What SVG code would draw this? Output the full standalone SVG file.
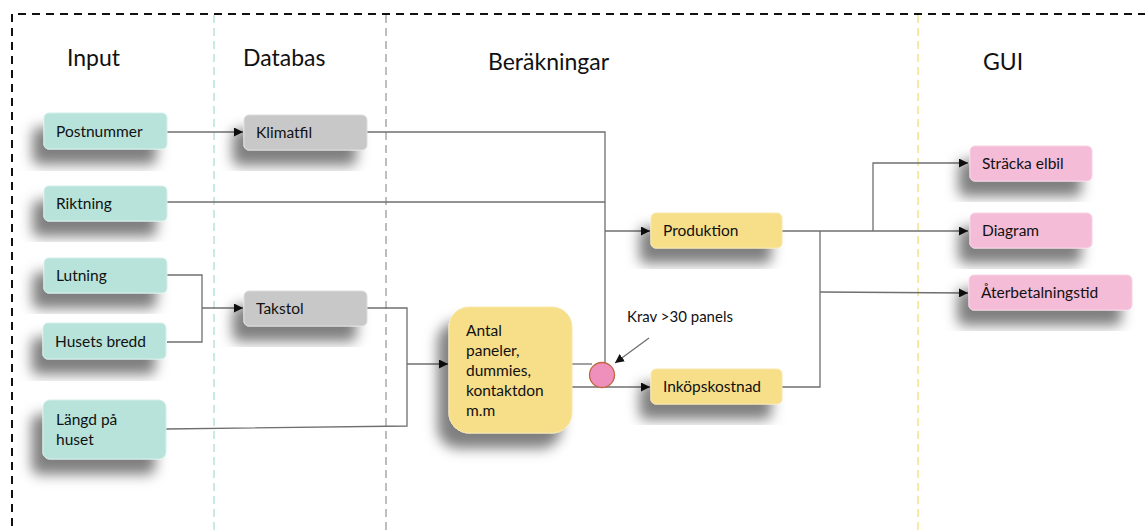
<svg xmlns="http://www.w3.org/2000/svg" width="1145" height="531" viewBox="0 0 1145 531">
<style>
.hdr{font-family:Lato,"Open Sans","Liberation Sans",sans-serif;font-size:23px;fill:#111}
.lbl{font-family:Lato,"Open Sans","Liberation Sans",sans-serif;font-size:15.5px;fill:#111}
.sm{font-family:Lato,"Open Sans","Liberation Sans",sans-serif;font-size:15px;fill:#111}
.teal{fill:#b8e3db;stroke:#d4eee9;stroke-width:1}
.gray{fill:#c8c8c8;stroke:#dcdcdc;stroke-width:1}
.yel{fill:#f7de89;stroke:#f9e8ad;stroke-width:1}
.pink{fill:#f4bcd7;stroke:#f8d3e5;stroke-width:1}
.con{fill:none;stroke:#6f6f6f;stroke-width:1.3}
</style>
<defs>
<filter id="sh" x="-40%" y="-40%" width="180%" height="200%">
<feDropShadow dx="-11" dy="15" stdDeviation="6.5" flood-color="#000" flood-opacity="0.5"/>
</filter>
<marker id="ah" viewBox="0 0 10 10" refX="10" refY="5" markerWidth="9" markerHeight="9" markerUnits="userSpaceOnUse" orient="auto">
<path d="M0,0 L10,5 L0,10 z" fill="#111"/>
</marker>
</defs>
<rect width="1145" height="531" fill="#fff"/>
<g id="frame">
<path d="M1160,14 H12 V540" fill="none" stroke="#111" stroke-width="2" stroke-dasharray="8,6"/>
<line x1="214" y1="15" x2="214" y2="531" stroke="#c9e9e5" stroke-width="2" stroke-dasharray="8,5"/>
<line x1="386" y1="15" x2="386" y2="531" stroke="#a9a9a9" stroke-width="1.5" stroke-dasharray="8,5"/>
<line x1="918" y1="15" x2="918" y2="531" stroke="#f6eaa4" stroke-width="2" stroke-dasharray="8,5"/>
</g>
<g id="headers">
<text class="hdr" x="67" y="66">Input</text>
<text class="hdr" x="243" y="66">Databas</text>
<text class="hdr" x="488" y="70">Beräkningar</text>
<text class="hdr" x="983" y="70">GUI</text>
</g>
<g id="connectors">
<line class="con" x1="167" y1="132" x2="243" y2="132" marker-end="url(#ah)"/>
<polyline class="con" points="367,132 605,132 605,363"/>
<polyline class="con" points="167,202 605,202"/>
<line class="con" x1="605" y1="231" x2="650" y2="231" marker-end="url(#ah)"/>
<polyline class="con" points="167,275 202,275 202,342 167,342"/>
<line class="con" x1="202" y1="308" x2="243" y2="308" marker-end="url(#ah)"/>
<polyline class="con" points="367,308 407,308 407,426 166,429"/>
<line class="con" x1="407" y1="364" x2="448" y2="364" marker-end="url(#ah)"/>
<line class="con" x1="572" y1="364" x2="592" y2="364"/>
<line class="con" x1="572" y1="387" x2="650" y2="387" marker-end="url(#ah)"/>
<line class="con" x1="649" y1="338" x2="615" y2="363" marker-end="url(#ah)"/>
<line class="con" x1="782" y1="231" x2="968" y2="231" marker-end="url(#ah)"/>
<polyline class="con" points="873,231 873,163 968,163" marker-end="url(#ah)"/>
<polyline class="con" points="782,387 820,387 820,231"/>
<line class="con" x1="820" y1="292" x2="968" y2="293" marker-end="url(#ah)"/>
</g>
<g id="postnummer"><rect class="teal" x="44" y="113" width="123" height="36" rx="5" filter="url(#sh)"/><text class="lbl" x="56" y="137">Postnummer</text></g>
<g id="riktning"><rect class="teal" x="44" y="186" width="123" height="35" rx="5" filter="url(#sh)"/><text class="lbl" x="56" y="209">Riktning</text></g>
<g id="lutning"><rect class="teal" x="44" y="258" width="123" height="35" rx="5" filter="url(#sh)"/><text class="lbl" x="56" y="281">Lutning</text></g>
<g id="husets-bredd"><rect class="teal" x="43" y="323" width="123" height="36" rx="5" filter="url(#sh)"/><text class="lbl" x="55" y="347">Husets bredd</text></g>
<g id="langd"><rect class="teal" x="43" y="400" width="123" height="59" rx="7" filter="url(#sh)"/><text class="lbl" x="56" y="425">Längd på</text><text class="lbl" x="56" y="445">huset</text></g>
<g id="klimatfil"><rect class="gray" x="244" y="115" width="123" height="35" rx="5" filter="url(#sh)"/><text class="lbl" x="256" y="138">Klimatfil</text></g>
<g id="takstol"><rect class="gray" x="244" y="291" width="123" height="35" rx="5" filter="url(#sh)"/><text class="lbl" x="256" y="314">Takstol</text></g>
<g id="antal"><rect class="yel" x="449" y="307" width="123" height="126" rx="20" filter="url(#sh)"/>
<text class="lbl" x="466" y="336">Antal</text><text class="lbl" x="466" y="356">paneler,</text><text class="lbl" x="466" y="376">dummies,</text><text class="lbl" x="466" y="396">kontaktdon</text><text class="lbl" x="466" y="416">m.m</text></g>
<g id="krav"><circle cx="602" cy="375" r="12.5" fill="#ef8fbc" stroke="#c0653f" stroke-width="1.3"/><text class="sm" x="627" y="322">Krav &gt;30 panels</text></g>
<g id="produktion"><rect class="yel" x="651" y="213" width="131" height="35" rx="5" filter="url(#sh)"/><text class="lbl" x="663" y="236">Produktion</text></g>
<g id="inkop"><rect class="yel" x="651" y="369" width="131" height="35" rx="5" filter="url(#sh)"/><text class="lbl" x="663" y="392">Inköpskostnad</text></g>
<g id="stracka"><rect class="pink" x="970" y="146" width="122" height="35" rx="5" filter="url(#sh)"/><text class="lbl" x="982" y="169">Sträcka elbil</text></g>
<g id="diagram"><rect class="pink" x="970" y="213" width="122" height="35" rx="5" filter="url(#sh)"/><text class="lbl" x="982" y="236">Diagram</text></g>
<g id="aterbetalning"><rect class="pink" x="969" y="275" width="163" height="35" rx="5" filter="url(#sh)"/><text class="lbl" x="981" y="298">Återbetalningstid</text></g>
</svg>
